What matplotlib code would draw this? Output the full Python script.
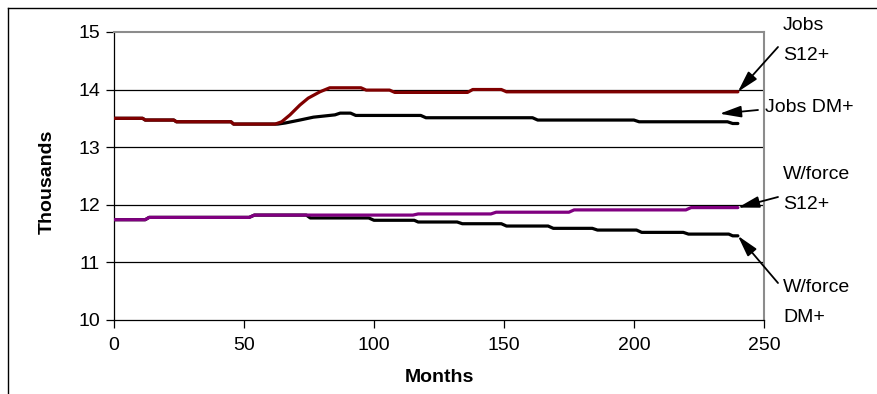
import matplotlib.pyplot as plt
from matplotlib.lines import Line2D

plt.rcParams['font.family'] = ['Liberation Sans', 'DejaVu Sans']

# monthly series (thousands); repeated months mark a step change
jobs_s12_months = [0, 11, 12, 23, 24, 45, 46, 62, 64.5, 67.7, 71.5, 74.7, 79.2, 83,
                   95, 97, 106, 108, 136, 138, 149, 151, 240]
jobs_s12_vals = [13.50, 13.50, 13.47, 13.47, 13.44, 13.44, 13.40, 13.40, 13.44, 13.56,
                 13.73, 13.85, 13.96, 14.03, 14.03, 13.99, 13.99, 13.95, 13.95, 14.00,
                 14.00, 13.96, 13.96]

jobs_dm_months = [0, 11, 12, 23, 24, 45, 46, 63, 66, 71.5, 76.7, 85, 87, 91, 93,
                  118, 120, 161, 163, 200, 202, 236, 238, 240]
jobs_dm_vals = [13.50, 13.50, 13.47, 13.47, 13.44, 13.44, 13.40, 13.40, 13.42, 13.47,
                13.52, 13.56, 13.59, 13.59, 13.55, 13.55, 13.51, 13.51, 13.47, 13.47,
                13.44, 13.44, 13.41, 13.41]

wf_s12_months = [0, 12, 13.5, 52, 54, 115, 117, 145, 147, 175, 177, 220, 222, 240]
wf_s12_vals = [11.74, 11.74, 11.78, 11.78, 11.82, 11.82, 11.84, 11.84, 11.87, 11.87,
               11.91, 11.91, 11.95, 11.95]

wf_dm_months = [0, 12, 13.5, 52, 54, 74, 75.5, 98, 100, 115.5, 117, 132, 134, 149,
                151, 167, 169, 184, 186, 201, 203, 219, 221, 236.5, 238, 240]
wf_dm_vals = [11.74, 11.74, 11.78, 11.78, 11.82, 11.82, 11.77, 11.77, 11.73, 11.73,
              11.70, 11.70, 11.67, 11.67, 11.63, 11.63, 11.59, 11.59, 11.56, 11.56,
              11.52, 11.52, 11.49, 11.49, 11.46, 11.46]

x_ticks = [0, 50, 100, 150, 200, 250]
y_ticks = [10, 11, 12, 13, 14, 15]

W, H = 877, 394
fig = plt.figure(figsize=(W / 100, H / 100), dpi=100)
ax = fig.add_axes([0.130, 0.188, 0.741, 0.731])

# gridlines behind the series
for v in y_ticks[1:-1]:
    ax.axhline(v, color='black', lw=0.9, zorder=1)

ax.plot(jobs_dm_months, jobs_dm_vals, color='black', lw=2.3, solid_capstyle='round', zorder=3)
ax.plot(jobs_s12_months, jobs_s12_vals, color='#800000', lw=2.3, solid_capstyle='round', zorder=4)
ax.plot(wf_dm_months, wf_dm_vals, color='black', lw=2.3, solid_capstyle='round', zorder=3)
ax.plot(wf_s12_months, wf_s12_vals, color='#800080', lw=2.3, solid_capstyle='round', zorder=4)

ax.set_xlim(0, 250)
ax.set_ylim(10, 15)
ax.set_xticks(x_ticks)
ax.set_yticks(y_ticks)
ax.tick_params(direction='out', length=6, width=0.9, labelsize=14, color='black', pad=4)
ax.tick_params(axis='x', pad=6)

for side in ['top', 'right']:
    ax.spines[side].set_color('#8c8c8c')
    ax.spines[side].set_linewidth(1.5)
for side in ['left', 'bottom']:
    ax.spines[side].set_color('black')
    ax.spines[side].set_linewidth(0.9)

ax.set_xlabel('Months', fontsize=14, fontweight='bold', labelpad=11)
ax.set_ylabel('Thousands', fontsize=14, fontweight='bold')
ax.yaxis.set_label_coords(-0.089, 0.479)


def px(x, y):
    # image pixel position (from top-left) -> figure pixels
    return (x, H - y)


arrow = dict(arrowstyle='-|>,head_length=1.3,head_width=0.35', color='black', lw=1.3,
             shrinkA=0, shrinkB=0)

# callout arrows pointing at the series ends
ax.annotate('', xy=(jobs_s12_months[-1], jobs_s12_vals[-1]), xytext=px(778, 47),
            textcoords='figure pixels', arrowprops=arrow, annotation_clip=False)
ax.annotate('', xy=(233, 13.58), xytext=px(758, 110),
            textcoords='figure pixels', arrowprops=arrow, annotation_clip=False)
ax.annotate('', xy=(wf_s12_months[-1], wf_s12_vals[-1]), xytext=px(778, 197),
            textcoords='figure pixels', arrowprops=arrow, annotation_clip=False)
ax.annotate('', xy=(wf_dm_months[-1], wf_dm_vals[-1]), xytext=px(778, 283),
            textcoords='figure pixels', arrowprops=arrow, annotation_clip=False)

labels = [('Jobs', 783, 25), ('S12+', 783, 55), ('Jobs DM+', 765, 108),
          ('W/force', 783, 175), ('S12+', 783, 205), ('W/force', 783, 287), ('DM+', 783, 317)]
for txt, lx, ly in labels:
    fig.text(lx / W, 1 - ly / H, txt, fontsize=14, ha='left', va='center')

# outer chart frame, left and top edges only
fig.add_artist(Line2D([8 / W, 8 / W], [0, 1 - 8 / H], color='black', lw=1.0,
                      transform=fig.transFigure))
fig.add_artist(Line2D([8 / W, 1], [1 - 8 / H, 1 - 8 / H], color='black', lw=1.0,
                      transform=fig.transFigure))

fig.savefig('out.png', dpi=100)
